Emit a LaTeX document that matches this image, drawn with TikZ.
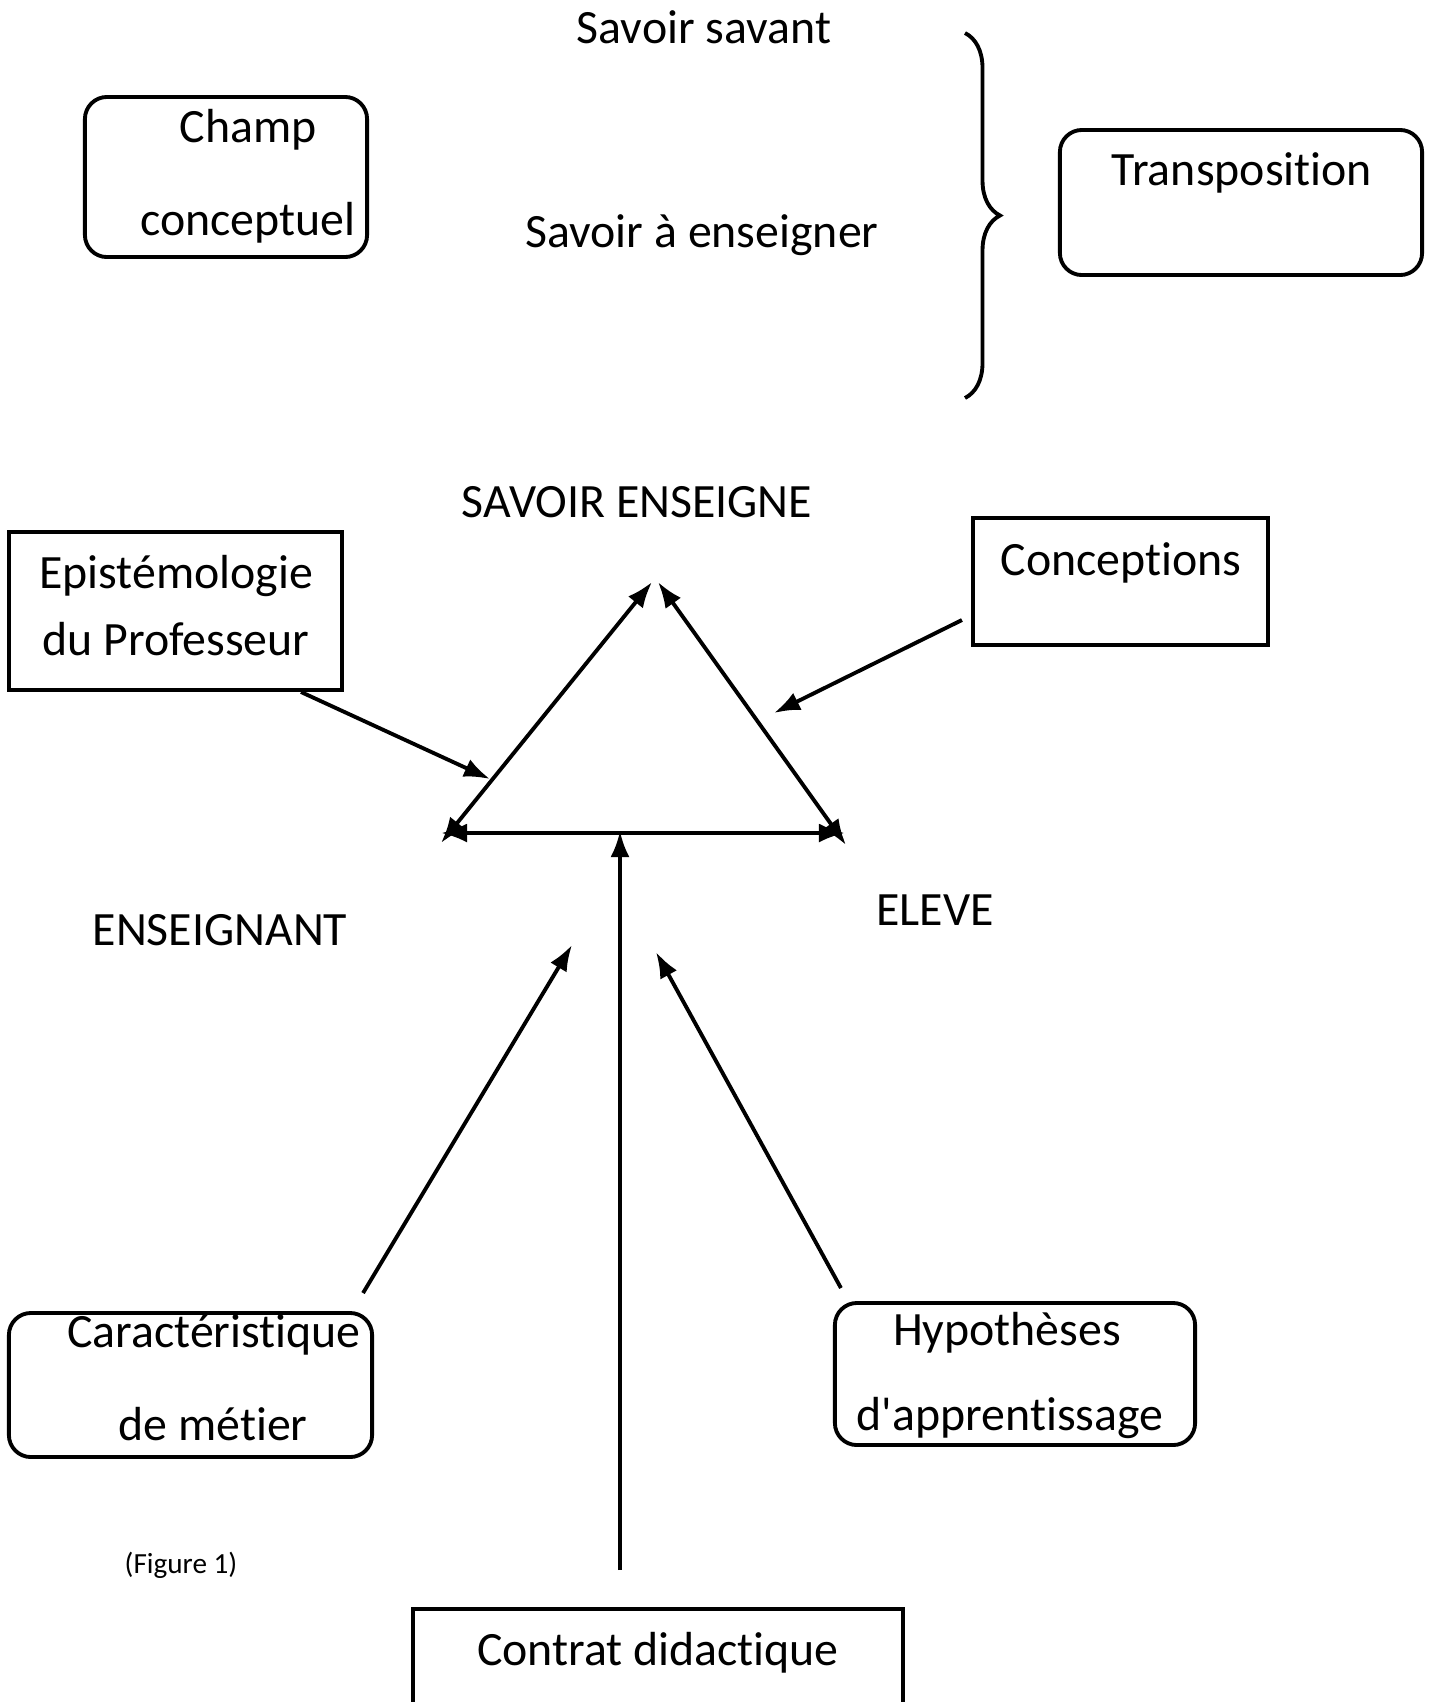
\documentclass[tikz,border=0pt]{standalone}
\usepackage{fontspec}
\setmainfont{Carlito}[Ligatures={NoCommon}]
\usetikzlibrary{arrows.meta,decorations.pathreplacing,calc}

% t et i sans ligature
\newcommand{\tI}{t\kern0pt i}

\tikzset{
	txt/.style={anchor=base, inner sep=0pt, font=\fontsize{13.6}{16}\selectfont},
	rbox/.style={draw, line width=1.1pt, rounded corners=0.22cm, inner sep=0pt},
	sbox/.style={draw, line width=1.1pt, inner sep=0pt},
	fl/.style={line width=1.1pt, >={Latex[length=2.6mm,width=1.9mm]}}
}

\begin{document}
\begin{tikzpicture}[x=0.01cm, y=-0.01cm]
		\useasboundingbox (0,0) rectangle (1434,1702);
		\clip (0,0) rectangle (1434,1702);
		% haut : transposition
		\node [txt] (savant) at (704,43) {Savoir savant};
		\node [txt] (aens) at (702,247) {Savoir à enseigner};
		\node [rbox, minimum width=2.82cm, minimum height=1.60cm] (champ) at (226,177) {};
		\node [txt] (champ1) at (248,142) {Champ};
		\node [txt] (champ2) at (248,235) {conceptuel};
		\node [rbox, minimum width=3.62cm, minimum height=1.45cm] (transp) at (1241,202.5) {};
		\node [txt] (transp1) at (1242,185) {Transposi\tI on};
		\coordinate (bh) at (965,33);
		\coordinate (bb) at (965,398);
		\draw [line width=1.1pt, decorate, decoration={brace, amplitude=0.35cm}] (bh) -- (bb);
		% triangle
		\node [txt] (savoir) at (637,517) {SAVOIR ENSEIGNE};
		\node [txt] (ens) at (220,945) {ENSEIGNANT};
		\node [txt] (eleve) at (935,925) {ELEVE};
		\coordinate (tl) at (652,582);
		\coordinate (tr) at (658,582);
		\coordinate (bl) at (441,843);
		\coordinate (br) at (846,845);
		\coordinate (gl) at (441,833);
		\coordinate (gr) at (845,833);
		% boites
		\node [sbox, minimum width=3.33cm, minimum height=1.58cm] (epist) at (175.5,611) {};
		\node [txt] (epist1) at (176,588) {Epistémologie};
		\node [txt] (epist2) at (176,655) {du Professeur};
		\node [sbox, minimum width=2.95cm, minimum height=1.27cm] (conc) at (1120.5,581.5) {};
		\node [txt] (conc1) at (1121,575) {Concep\tI ons};
		\node [rbox, minimum width=3.63cm, minimum height=1.44cm] (carac) at (190.5,1385) {};
		\node [txt] (carac1) at (214,1347) {Caractéris\tI que};
		\node [txt] (carac2) at (213,1440) {de métier};
		\node [rbox, minimum width=3.60cm, minimum height=1.42cm] (hyp) at (1015,1374) {};
		\node [txt] (hyp1) at (1007,1345) {Hypothèses};
		\node [txt] (hyp2) at (1010,1430) {d\textquotesingle apprent\kern0pt issage};
		\node [sbox, minimum width=4.90cm, minimum height=1.51cm] (contrat) at (658,1684.5) {};
		\node [txt] (contrat1) at (658,1665) {Contrat didac\tI que};
		\node [txt, font=\fontsize{8.3}{10}\selectfont] (fig) at (181,1573) {(Figure 1)};
		% points d'arrivee
		\coordinate (pe) at (490,779);
		\coordinate (pc) at (774,713);
		\coordinate (pg) at (572,945);
		\coordinate (pd) at (656,952);
		\coordinate (pb) at (620,831);
		\path[fl]
					(bl) edge[<->] (tl)
					(tr) edge[<->] (br)
					(gl) edge[<->] (gr)
					($(epist.south)+(125.5,0)$) edge[->] (pe)
					($(conc.west)+(-9,38.5)$) edge[->] (pc)
					($(carac.north east)+(-11,-18)$) edge[->] (pg)
					($(hyp.north west)+(8,-13)$) edge[->] (pd)
					($(contrat.north)+(-38,-37)$) edge[->] (pb);
\end{tikzpicture}
\end{document}
